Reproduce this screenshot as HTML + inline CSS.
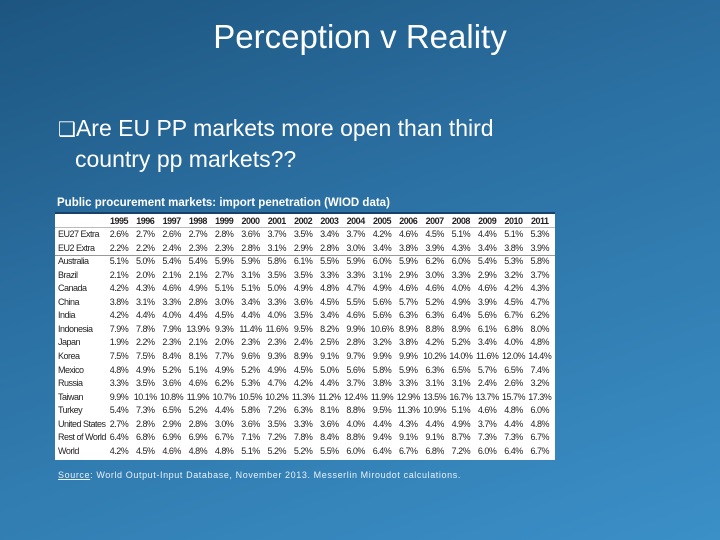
<!DOCTYPE html>
<html><head><meta charset="utf-8"><style>
body{margin:0;width:720px;height:540px;overflow:hidden;font-family:"Liberation Sans",sans-serif}
#slide{position:relative;width:720px;height:540px;background:linear-gradient(160deg,#1d5580 0%,#2b70a2 40%,#3b90c8 100%)}
.abs{position:absolute}
#title{left:0;width:720px;top:18px;text-align:center;color:#fff;font-size:33px}
#bullet{left:58px;top:114px;color:#fff;font-size:23px;line-height:29px}
#cap{left:57px;top:197px;color:#fff;font-size:11.5px;font-weight:bold}
#tbl{left:55px;top:212px;width:500px;height:246px;background:#fff;border-top:2px solid #17406a}
#tbl div{position:absolute;font-size:9px;color:#222;letter-spacing:-0.5px;white-space:nowrap}
#src{left:58px;top:470px;color:#eaf2fa;font-size:9px;letter-spacing:0.6px}
</style></head><body>
<div id="slide">
<div class="abs" id="title">Perception v Reality</div>
<div class="abs" id="bullet"><span style="font-size:20px">❑</span>Are EU PP markets more open than third<br><span style="padding-left:17px">country pp markets??</span></div>
<div class="abs" id="cap">Public procurement markets: import penetration (WIOD data)</div>
<div class="abs" id="tbl"></div>
<div class="abs" id="src"><u>Source</u>: World Output-Input Database, November 2013. Messerlin Miroudot calculations.</div>
</div>
<script>
const years=["1995","1996","1997","1998","1999","2000","2001","2002","2003","2004","2005","2006","2007","2008","2009","2010","2011"];
const rowLabels=["EU27 Extra","EU2 Extra","Australia","Brazil","Canada","China","India","Indonesia","Japan","Korea","Mexico","Russia","Taiwan","Turkey","United States","Rest of World","World"];
const r0=["2.6%","2.7%","2.6%","2.7%","2.8%","3.6%","3.7%","3.5%","3.4%","3.7%","4.2%","4.6%","4.5%","5.1%","4.4%","5.1%","5.3%"];
const r1=["2.2%","2.2%","2.4%","2.3%","2.3%","2.8%","3.1%","2.9%","2.8%","3.0%","3.4%","3.8%","3.9%","4.3%","3.4%","3.8%","3.9%"];
const r2=["5.1%","5.0%","5.4%","5.4%","5.9%","5.9%","5.8%","6.1%","5.5%","5.9%","6.0%","5.9%","6.2%","6.0%","5.4%","5.3%","5.8%"];
const r3=["2.1%","2.0%","2.1%","2.1%","2.7%","3.1%","3.5%","3.5%","3.3%","3.3%","3.1%","2.9%","3.0%","3.3%","2.9%","3.2%","3.7%"];
const r4=["4.2%","4.3%","4.6%","4.9%","5.1%","5.1%","5.0%","4.9%","4.8%","4.7%","4.9%","4.6%","4.6%","4.0%","4.6%","4.2%","4.3%"];
const r5=["3.8%","3.1%","3.3%","2.8%","3.0%","3.4%","3.3%","3.6%","4.5%","5.5%","5.6%","5.7%","5.2%","4.9%","3.9%","4.5%","4.7%"];
const r6=["4.2%","4.4%","4.0%","4.4%","4.5%","4.4%","4.0%","3.5%","3.4%","4.6%","5.6%","6.3%","6.3%","6.4%","5.6%","6.7%","6.2%"];
const r7=["7.9%","7.8%","7.9%","13.9%","9.3%","11.4%","11.6%","9.5%","8.2%","9.9%","10.6%","8.9%","8.8%","8.9%","6.1%","6.8%","8.0%"];
const r8=["1.9%","2.2%","2.3%","2.1%","2.0%","2.3%","2.3%","2.4%","2.5%","2.8%","3.2%","3.8%","4.2%","5.2%","3.4%","4.0%","4.8%"];
const r9=["7.5%","7.5%","8.4%","8.1%","7.7%","9.6%","9.3%","8.9%","9.1%","9.7%","9.9%","9.9%","10.2%","14.0%","11.6%","12.0%","14.4%"];
const r10=["4.8%","4.9%","5.2%","5.1%","4.9%","5.2%","4.9%","4.5%","5.0%","5.6%","5.8%","5.9%","6.3%","6.5%","5.7%","6.5%","7.4%"];
const r11=["3.3%","3.5%","3.6%","4.6%","6.2%","5.3%","4.7%","4.2%","4.4%","3.7%","3.8%","3.3%","3.1%","3.1%","2.4%","2.6%","3.2%"];
const r12=["9.9%","10.1%","10.8%","11.9%","10.7%","10.5%","10.2%","11.3%","11.2%","12.4%","11.9%","12.9%","13.5%","16.7%","13.7%","15.7%","17.3%"];
const r13=["5.4%","7.3%","6.5%","5.2%","4.4%","5.8%","7.2%","6.3%","8.1%","8.8%","9.5%","11.3%","10.9%","5.1%","4.6%","4.8%","6.0%"];
const r14=["2.7%","2.8%","2.9%","2.8%","3.0%","3.6%","3.5%","3.3%","3.6%","4.0%","4.4%","4.3%","4.4%","4.9%","3.7%","4.4%","4.8%"];
const r15=["6.4%","6.8%","6.9%","6.9%","6.7%","7.1%","7.2%","7.8%","8.4%","8.8%","9.4%","9.1%","9.1%","8.7%","7.3%","7.3%","6.7%"];
const r16=["4.2%","4.5%","4.6%","4.8%","4.8%","5.1%","5.2%","5.2%","5.5%","6.0%","6.4%","6.7%","6.8%","7.2%","6.0%","6.4%","6.7%"];
const rows=[r0,r1,r2,r3,r4,r5,r6,r7,r8,r9,r10,r11,r12,r13,r14,r15,r16];
const tbl=document.getElementById('tbl');
function colX(i){return 64+i*26.3;}
function rowY(j){return 16+j*13.56;}
years.forEach((y,i)=>{const d=document.createElement('div');


d.textContent=y;d.style.left=(colX(i)-13)+'px';d.style.width='26px';d.style.textAlign='center';d.style.top='2px';d.style.fontWeight='bold';tbl.appendChild(d);});
rowLabels.forEach((lab,j)=>{const d=document.createElement('div');


d.textContent=lab;d.style.left='3px';d.style.top=(rowY(j)-1)+'px';tbl.appendChild(d);
rows[j].forEach((v,i)=>{const c=document.createElement('div');


c.textContent=v;c.style.left=(colX(i)-13)+'px';c.style.width='26px';c.style.textAlign='center';c.style.top=(rowY(j)-1)+'px';tbl.appendChild(c);});});
const sep=document.createElement('div');


sep.style.left='0';sep.style.width='500px';sep.style.top=(rowY(2)-2)+'px';sep.style.borderTop='1px solid #999';tbl.appendChild(sep);
const hs=document.createElement('div');


hs.style.left='0';hs.style.width='500px';hs.style.top='13px';hs.style.borderTop='1px solid #bbb';tbl.appendChild(hs);
</script>
</body></html>
